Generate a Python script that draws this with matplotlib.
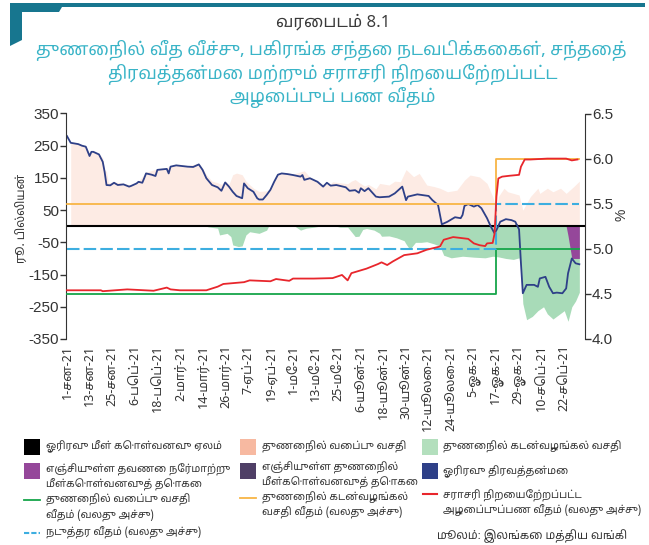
import numpy as np
import pandas as pd
import matplotlib
matplotlib.use('Agg')
import matplotlib.pyplot as plt
from matplotlib import font_manager
from matplotlib.ft2font import FT2Font
from matplotlib.patches import Polygon, Rectangle


def find_tamil_font():
    names = set()
    for f in font_manager.fontManager.ttflist:
        try:
            if 0x0BA4 in FT2Font(f.fname).get_charmap():
                names.add(f.name)
        except Exception:
            pass

    def rank(n):
        r = 0
        if 'Tamil' in n:
            r -= 10
        if 'Sans' in n:
            r -= 2
        if 'Serif' in n:
            r += 1
        if 'Mono' in n:
            r += 6
        return r
    return sorted(names, key=rank)[0] if names else None


tamil = find_tamil_font()
FAM = [tamil, 'Liberation Sans', 'DejaVu Sans'] if tamil else ['Liberation Sans', 'DejaVu Sans']
plt.rcParams['font.family'] = FAM

START = pd.Timestamp('2021-01-01')

# --- data (days since 1 Jan 2021, Rs bn / %) ---
liq_days = [0, 2, 6, 8, 10, 12, 13, 14, 17, 19, 20, 21, 23, 25, 27, 30, 33, 34, 37, 38,
            40, 41, 42, 45, 47, 48, 53, 54, 55, 58, 64, 67, 70, 72, 74, 77, 80, 82, 84, 86,
            88, 90, 93, 94, 96, 99, 101, 102, 104, 106, 108, 110, 112, 114, 117, 120, 124, 125, 126, 129,
            133, 136, 138, 140, 143, 148, 150, 153, 155, 156, 158, 160, 164, 166, 171, 174, 178, 180, 181, 186,
            192, 194, 197, 199, 202, 206, 209, 210, 211, 213, 216, 218, 220, 223, 225, 227, 228, 230, 233, 236,
            238, 240, 241, 242, 244, 248, 250, 251, 254, 256, 258, 260, 263, 265, 266, 268, 270, 272]
overnight_liq = [280, 259, 255, 250, 247, 218, 231, 231, 223, 200, 169, 128, 127, 135, 128, 130, 123, 125, 133, 138,
                 135, 149, 164, 160, 156, 175, 178, 164, 185, 189, 185, 184, 192, 175, 149, 128, 121, 110, 136, 123,
                 107, 94, 87, 133, 118, 107, 87, 83, 83, 97, 113, 138, 160, 164, 162, 159, 154, 159, 144, 149,
                 138, 123, 135, 126, 128, 121, 110, 112, 104, 118, 109, 118, 92, 90, 92, 102, 123, 81, 92, 99,
                 94, 81, 66, 6, 14, 28, 25, 35, 63, 69, 61, 66, 56, 25, -1, -22, -12, 14, 22, 19,
                 14, -10, -115, -208, -182, -182, -188, -162, -157, -188, -208, -206, -208, -193, -146, -100, -115, -118]

sdf_days = [2, 6, 10, 12, 14, 17, 19, 20, 21, 22, 25, 30, 34, 38, 42, 48, 53, 55, 58, 64,
            70, 72, 74, 77, 80, 82, 84, 86, 88, 90, 93, 95, 99, 102, 106, 108, 110, 112, 117, 120,
            124, 126, 129, 133, 136, 140, 141, 145, 149, 151, 153, 155, 158, 160, 164, 166, 171, 174, 177, 180,
            184, 187, 191, 195, 198, 202, 207, 211, 214, 219, 223, 226, 228, 229, 232, 234, 237, 240, 242, 246,
            250, 251, 255, 258, 262, 265, 269, 272]
sdf = [262, 256, 250, 225, 232, 225, 212, 175, 170, 135, 138, 133, 128, 140, 168, 178, 182, 188, 192, 188,
       195, 180, 160, 140, 135, 130, 140, 130, 160, 165, 160, 140, 118, 108, 110, 118, 140, 163, 166, 162,
       169, 172, 152, 142, 128, 132, 138, 135, 132, 140, 145, 136, 125, 130, 116, 133, 128, 140, 138, 176,
       154, 164, 128, 123, 118, 107, 112, 143, 159, 153, 133, 92, 50, 92, 118, 107, 102, 97, 50, 92,
       118, 102, 118, 107, 118, 102, 123, 140]

slf_days = [0, 74, 75, 80, 81, 85, 87, 88, 91, 93, 95, 97, 102, 106, 107, 121, 124, 127, 131, 134,
            143, 145, 149, 150, 153, 155, 157, 159, 163, 166, 167, 171, 175, 179, 180, 182, 185, 188, 191, 195,
            198, 200, 204, 210, 216, 222, 226, 229, 233, 237, 240, 241, 242, 244, 247, 250, 253, 255, 258, 261,
            264, 266, 268, 270, 272]
slf = [0, 0, -2, -6, -27, -22, -32, -58, -63, -61, -27, -17, -22, -12, 0, 0, -12, -6, -3, 0,
       0, -3, -3, -10, -32, -31, -10, -7, -12, -22, -31, -30, -36, -45, -55, -72, -50, -50, -48, -55,
       -62, -90, -98, -93, -96, -98, -93, -95, -100, -103, -98, -130, -240, -290, -280, -262, -250, -272, -288, -275,
       -262, -295, -250, -232, -205]

term_rev_repo_days = [265, 266, 268, 272]
term_rev_repo = [0, -30, -100, -100]

on_repo_days = [236, 238, 239, 240]
on_repo = [0, 7, 7, 0]

awcmr_days = [0, 18, 19, 32, 46, 53, 55, 60, 74, 80, 83, 94, 97, 108, 111, 118, 120, 131, 141, 146,
              149, 151, 159, 165, 167, 170, 173, 179, 186, 191, 195, 198, 200, 205, 209, 213, 216, 219, 222, 223,
              226, 227, 228, 229, 231, 235, 240, 241, 243, 246, 255, 265, 268, 271]
awcmr = [4.54, 4.54, 4.53, 4.55, 4.535, 4.57, 4.55, 4.54, 4.54, 4.58, 4.61, 4.63, 4.65, 4.64, 4.665, 4.645, 4.67, 4.67, 4.675, 4.71,
         4.65, 4.73, 4.78, 4.83, 4.85, 4.82, 4.86, 4.93, 4.95, 4.99, 5.01, 5.025, 5.10, 5.13, 5.12, 5.11, 5.06, 5.04, 5.03, 5.06,
         5.065, 5.17, 5.58, 5.78, 5.80, 5.81, 5.82, 5.91, 5.99, 5.99, 6.00, 6.00, 5.98, 5.99]

rate_days = [0, 228, 272]
sdfr = [4.5, 5.0, 5.0]
slfr = [5.5, 6.0, 6.0]
mid_rate = [5.0, 5.5, 5.5]

tick_days = list(range(0, 265, 12))
tick_labels = ['1-சன-21', '13-சன-21', '25-சன-21', '6-பெப்-21', '18-பெப்-21', '2-மார்-21',
               '14-மார்-21', '26-மார்-21', '7-ஏப்-21', '19-ஏப்-21', '1-மே-21', '13-மே-21',
               '25-மே-21', '6-யூன்-21', '18-யூன்-21', '30-யூன்-21', '12-யூலை-21', '24-யூலை-21',
               '5-ஓக-21', '17-ஓக-21', '29-ஓக-21', '10-செப்-21', '22-செப்-21']


def to_dates(days):
    return START + pd.to_timedelta(np.asarray(days, dtype=float), unit='D')


W, H = 649, 545
fig = plt.figure(figsize=(W / 100, H / 100), dpi=100)
ax = fig.add_axes([66 / W, 1 - 339 / H, (585 - 66) / W, (339 - 113.5) / H])
ax2 = ax.twinx()

ax.fill_between(to_dates(sdf_days), 0, sdf, color='#fdebe4', lw=0)
ax.fill_between(to_dates(slf_days), 0, slf, color='#a8dbb8', lw=0)
ax.fill_between(to_dates(term_rev_repo_days), 0, term_rev_repo, color='#95479a', lw=0)
ax.fill_between(to_dates(on_repo_days), 0, on_repo, color='#222222', lw=0)
ax.axhline(0, color='black', lw=1.5)
ax.plot(to_dates(liq_days), overnight_liq, color='#2e4088', lw=1.3)

ax2.plot(to_dates(rate_days), sdfr, color='#16a54a', lw=1.3, drawstyle='steps-post')
ax2.plot(to_dates(rate_days), slfr, color='#f8b545', lw=1.3, drawstyle='steps-post')
ax2.plot(to_dates(rate_days), mid_rate, color='#3daee0', lw=1.5, drawstyle='steps-post',
         dashes=(6, 2))
ax2.plot(to_dates(awcmr_days), awcmr, color='#e8262c', lw=1.3)

ax.set_xlim(START - pd.Timedelta(days=0.5), START + pd.Timedelta(days=275))
ax.set_ylim(-350, 350)
ax2.set_ylim(4.0, 6.5)
ax.set_yticks(range(-350, 351, 100))
ax.set_yticklabels([str(v) for v in range(-350, 351, 100)])
ax2.set_yticks([4.0, 4.5, 5.0, 5.5, 6.0, 6.5])
ax2.set_yticklabels(['4.0', '4.5', '5.0', '5.5', '6.0', '6.5'])
ax.set_xticks(to_dates(tick_days))
ax.set_xticklabels(tick_labels, rotation=90, fontsize=9, color='#333333')
ax.tick_params(axis='x', length=0, pad=4)

for a in (ax, ax2):
    a.patch.set_visible(False)
    for s in ('top', 'bottom'):
        a.spines[s].set_visible(False)
    a.tick_params(axis='y', length=4, width=1, color='#333333', labelsize=11,
                  labelcolor='#333333', pad=1)
ax.spines['left'].set_color('#333333')
ax.spines['right'].set_visible(False)
ax2.spines['left'].set_visible(False)
ax2.spines['right'].set_color('#333333')
for lab in ax.get_yticklabels() + ax2.get_yticklabels():
    lab.set_family(['Liberation Sans', 'DejaVu Sans'])

# --- overlay in pixel coordinates for title, labels and legend ---
ov = fig.add_axes([0, 0, 1, 1], zorder=-1)
ov.set_xlim(0, W)
ov.set_ylim(H, 0)
ov.axis('off')

teal = '#17768f'
ov.add_patch(Polygon([(10, 3), (645, 3), (645, 7), (62, 7), (59, 12), (22, 12), (22, 40), (10, 46)],
                     closed=True, color=teal, lw=0))
ov.text(333, 22, 'வரைபடம் 8.1', ha='center', va='center', fontsize=12, color='#3a3a3a')
ov.text(331, 50, 'துணைநில் வீத வீச்சு, பகிரங்க சந்தை நடவடிக்கைகள், சந்தைத்',
        ha='center', va='center', fontsize=12.7, color='#3ab4c7')
ov.text(333, 74, 'திரவத்தன்மை மற்றும் சராசரி நிறையேற்றப்பட்ட',
        ha='center', va='center', fontsize=12.7, color='#3ab4c7')
ov.text(333, 97, 'அழைப்புப் பண வீதம்', ha='center', va='center', fontsize=12.7, color='#3ab4c7')

ov.text(22, 218, 'ரூ. பில்லியன்', rotation=90, ha='center', va='center', fontsize=8.5, color='#333333')
ov.text(622, 215, '%', rotation=90, ha='center', va='center', fontsize=10, color='#333333',
        family=['Liberation Sans', 'DejaVu Sans'])

leg_fs = 7.5
txt_c = '#333333'
squares = [((24, 439), 'black'), ((24, 463), '#95479a'), ((240, 439), '#f7b9a1'),
           ((240, 463), '#4f3f66'), ((422, 439), '#b3dfbd'), ((422, 463), '#2e4088')]
for (x0, y0), c in squares:
    ov.add_patch(Rectangle((x0, y0), 16, 16, color=c, lw=0))
ov.plot([24, 40], [500, 500], color='#16a54a', lw=1.3)
ov.plot([24, 40], [533, 533], color='#3daee0', lw=1.5, dashes=(2.5, 1))
ov.plot([240, 256], [498, 498], color='#f8b545', lw=1.3)
ov.plot([423, 437], [494, 494], color='#e8262c', lw=1.5)

legend_text = [
    (46, 447, 'ஓரிரவு மீள் கொள்வனவு ஏலம்'),
    (46, 470, 'எஞ்சியுள்ள தவணை நேர்மாற்று'),
    (46, 485, 'மீள்கொள்வனவுத் தொகை'),
    (46, 500, 'துணைநில் வைப்பு வசதி'),
    (46, 516, 'வீதம் (வலது அச்சு)'),
    (46, 533, 'நடுத்தர வீதம் (வலது அச்சு)'),
    (262, 447, 'துணைநில் வைப்பு வசதி'),
    (262, 468, 'எஞ்சியுள்ள துணைநில்'),
    (262, 483, 'மீள்கொள்வனவுத் தொகை'),
    (262, 498, 'துணைநில் கடன்வழங்கல்'),
    (262, 513, 'வசதி வீதம் (வலது அச்சு)'),
    (443, 447, 'துணைநில் கடன்வழங்கல் வசதி'),
    (443, 472, 'ஓரிரவு திரவத்தன்மை'),
    (443, 496, 'சராசரி நிறையேற்றப்பட்ட'),
    (443, 511, 'அழைப்புப்பண வீதம் (வலது அச்சு)'),
]
for x0, y0, s in legend_text:
    ov.text(x0, y0, s, ha='left', va='center', fontsize=leg_fs, color=txt_c)
ov.text(437, 536, 'மூலம்: இலங்கை மத்திய வங்கி', ha='left', va='center', fontsize=8.2, color=txt_c)

fig.savefig('out.png', dpi=100)
